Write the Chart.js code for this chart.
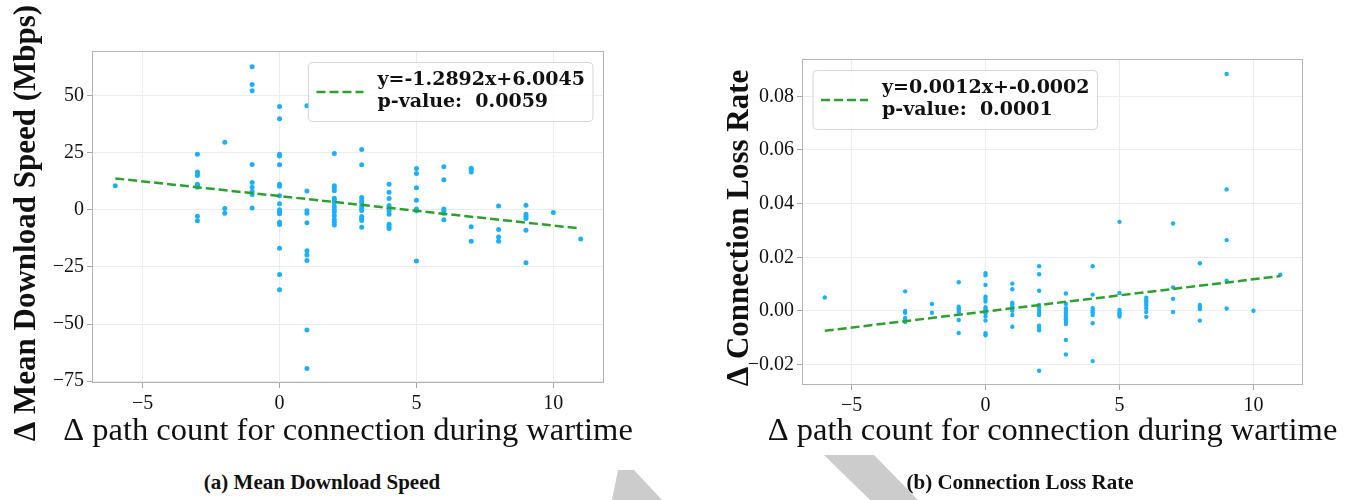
<!DOCTYPE html>
<html>
<head>
<meta charset="utf-8">
<script src="https://cdn.jsdelivr.net/npm/chart.js@4.4.1/dist/chart.umd.min.js"></script>
<style>
  html, body { margin: 0; padding: 0; background: #fff; }
  #wrap { position: relative; width: 1348px; height: 500px; overflow: hidden; }
  canvas { position: absolute; top: 0; }
  #cA { left: 0; }
  #cB { left: 674px; }
  .cap { position: absolute; top: 470px; font: bold 21px "Liberation Serif", serif; color: #111;
         transform: translateX(-50%); white-space: nowrap; z-index: 2; }
  .mark { position: absolute; left: 0; top: 0; width: 1348px; height: 500px; background: #cccccc; z-index: 1; }
</style>
</head>
<body>
<div id="wrap">
  <canvas id="cA" width="674" height="460"></canvas>
  <canvas id="cB" width="674" height="460"></canvas>
  <div class="mark" style="clip-path: polygon(618px 470px, 634px 470px, 662px 500px, 612px 500px);"></div>
  <div class="mark" style="clip-path: polygon(824px 455px, 874px 455px, 918px 500px, 870px 500px);"></div>
  <div class="cap" style="left: 322px;">(a) Mean Download Speed</div>
  <div class="cap" style="left: 1020px;">(b) Connection Loss Rate</div>
</div>
<script>
  // x values (delta path count) shared by both panels
  const xVals = [-6, -3, -2, -1, 0, 1, 2, 3, 4, 5, 6, 7, 8, 9, 10, 11];
  const xTicks = [-5, 0, 5, 10];

  // (a) delta mean download speed, one list per x value
  const speedVals = [
    [10.5],
    [24.3, 16.5, 15.9, 15.0, 11.2, 10.6, 9.9, -2.8, -4.8],
    [29.6, 0.6, -1.5],
    [62.6, 54.8, 52.1, 19.8, 12.0, 9.9, 8.0, 6.7, 0.8],
    [45.2, 39.9, 24.3, 23.6, 19.7, 11.2, 10.3, 6.1, 2.6, 0.0, -0.7, -1.7, -5.4, -6.4, -16.8, -28.3, -35.0],
    [45.5, 8.2, -0.4, -1.5, -5.7, -17.9, -19.8, -22.2, -52.6, -69.5],
    [24.6, 10.5, 9.5, 8.3, 5.1, 4.1, 3.2, 1.4, 0.0, -1.0, -2.6, -4.4, -5.4, -6.7],
    [26.4, 19.7, 5.4, 4.1, 3.1, 1.7, 0.7, -0.3, -2.9, -3.8, -4.7, -7.6],
    [11.2, 7.7, 4.9, 1.9, 0.5, -0.5, -1.9, -6.3, -7.3, -8.2],
    [18.1, 15.9, 9.6, 4.2, 0.4, -0.4, -22.4],
    [18.8, 13.1, 0.4, -0.4, -1.5, -4.4],
    [18.2, 17.5, 16.5, -7.4, -13.8],
    [1.7, -8.6, -11.9, -13.8],
    [2.0, -1.9, -2.9, -3.8, -8.9, -23.2],
    [-1.2],
    [-12.8]
  ];
  const speedTicks = [-75, -50, -25, 0, 25, 50];
  const speedFitX = [-6, 11];
  const speedFitY = [13.74, -8.18];
  const speedLegend = ['y=-1.2892x+6.0045', 'p-value:  0.0059'];

  // (b) delta connection loss rate
  const lossVals = [
    [0.0050],
    [0.0073, 0.0000, -0.0007, -0.0026, -0.0034, -0.0041],
    [0.0026, -0.0007],
    [0.0107, 0.0016, 0.0010, 0.0004, -0.0004, -0.0034, -0.0082],
    [0.0141, 0.0133, 0.0097, 0.0053, 0.0045, 0.0035, 0.0014, 0.0006, -0.0001, -0.0009, -0.0021, -0.0036, -0.0083, -0.0091],
    [0.0102, 0.0081, 0.0031, 0.0024, 0.0016, 0.0009, 0.0001, -0.0015, -0.0059],
    [0.0167, 0.0137, 0.0075, 0.0022, 0.0014, 0.0004, -0.0006, -0.0015, -0.0055, -0.0063, -0.0072, -0.0223],
    [0.0065, 0.0026, 0.0010, 0.0001, -0.0006, -0.0015, -0.0024, -0.0031, -0.0040, -0.0049, -0.0108, -0.0162],
    [0.0167, 0.0061, 0.0010, 0.0001, -0.0006, -0.0015, -0.0046, -0.0187],
    [0.0332, 0.0067, 0.0004, -0.0005, -0.0012, -0.0021],
    [0.0049, 0.0041, 0.0034, 0.0026, 0.0019, 0.0009, -0.0004, -0.0022],
    [0.0326, 0.0088, 0.0045, -0.0004],
    [0.0178, 0.0022, 0.0015, 0.0007, -0.0036],
    [0.0883, 0.0453, 0.0264, 0.0113, 0.0009],
    [0.0001],
    [0.0135]
  ];
  const lossTicks = [-0.02, 0, 0.02, 0.04, 0.06, 0.08];
  const lossFitX = [-6, 11];
  const lossFitY = [-0.0074, 0.0130];
  const lossLegend = ['y=0.0012x+-0.0002', 'p-value:  0.0001'];

  const blue = '#1cb0fc';
  const green = '#2ca02c';
  const serif = '"Liberation Serif", serif';
  const minus = (s) => String(s).replace('-', '\u2212');

  // box round the plot area (all four spines)
  const frame = {
    id: 'frame',
    beforeDatasetsDraw(chart) {
      const { ctx, chartArea: a } = chart;
      ctx.save();
      ctx.strokeStyle = '#b3b3b3';
      ctx.lineWidth = 1;
      ctx.strokeRect(Math.round(a.left) + 0.5, Math.round(a.top) + 0.5,
                     Math.round(a.width) - 1, Math.round(a.height) - 1);
      ctx.restore();
    }
  };

  // two-line legend for the fit line
  const fitLegend = {
    id: 'fitLegend',
    afterDatasetsDraw(chart, args, o) {
      const { ctx, chartArea: a } = chart;
      ctx.save();
      ctx.font = 'bold 19px "DejaVu Serif", serif';
      const tw = Math.max(...o.lines.map((t) => ctx.measureText(t).width));
      const w = 77 + tw, h = 59;
      const x = o.side === 'right' ? a.right - 11 - w : a.left + 11;
      const y = a.top + 11.5;
      ctx.beginPath();
      ctx.roundRect(x, y, w, h, 4);
      ctx.fillStyle = 'rgba(255,255,255,0.8)';
      ctx.fill();
      ctx.strokeStyle = 'rgba(204,204,204,0.8)';
      ctx.lineWidth = 1;
      ctx.stroke();
      ctx.beginPath();
      ctx.setLineDash([9, 4]);
      ctx.strokeStyle = green;
      ctx.lineWidth = 2.5;
      ctx.moveTo(x + 8, y + 29.5);
      ctx.lineTo(x + 55, y + 29.5);
      ctx.stroke();
      ctx.setLineDash([]);
      ctx.fillStyle = '#111';
      ctx.textBaseline = 'middle';
      ctx.fillText(o.lines[0], x + 69, y + 17.5);
      ctx.fillText(o.lines[1], x + 69, y + 39.5);
      ctx.restore();
    }
  };

  // axis titles drawn by hand so they are not squeezed to the axis length
  const axisTitles = {
    id: 'axisTitles',
    afterDraw(chart, args, o) {
      const { ctx, chartArea: a } = chart;
      ctx.save();
      ctx.fillStyle = '#111';
      ctx.textAlign = 'center';
      ctx.textBaseline = 'middle';
      ctx.font = '32.5px ' + serif;
      ctx.fillText(o.x, (a.left + a.right) / 2, o.xY);
      ctx.translate(o.yX, (a.top + a.bottom) / 2 + 6);
      ctx.rotate(-Math.PI / 2);
      ctx.font = 'bold 31px ' + serif;
      ctx.fillText(o.y, 0, 0);
      ctx.restore();
    }
  };

  function makeChart(el, cfg) {
    const pts = [];
    xVals.forEach((x, i) => cfg.vals[i].forEach((y) => pts.push({ x, y })));
    const fit = cfg.fitX.map((x, i) => ({ x, y: cfg.fitY[i] }));

    return new Chart(document.getElementById(el), {
      type: 'scatter',
      data: {
        datasets: [
          {
            type: 'line', data: fit, borderColor: green, borderWidth: 2.5,
            borderDash: [9, 4], pointRadius: 0, fill: false, order: 0
          },
          {
            data: pts, backgroundColor: blue, borderWidth: 0,
            pointRadius: cfg.r, pointHoverRadius: cfg.r, order: 1
          }
        ]
      },
      options: {
        responsive: false,
        animation: false,
        layout: { padding: cfg.pad },
        plugins: {
          legend: { display: false },
          tooltip: { enabled: false },
          fitLegend: { lines: cfg.legend, side: cfg.side },
          axisTitles: cfg.titles
        },
        scales: {
          x: {
            type: 'linear', min: -6.85, max: 11.85,
            afterBuildTicks: (s) => { s.ticks = xTicks.map((v) => ({ value: v })); },
            afterFit: (s) => { s.height = cfg.xH; },
            border: { display: false },
            grid: { color: '#ececec', tickColor: '#a6a6a6', tickLength: 5 },
            ticks: { font: { family: serif, size: 20 }, color: '#111', padding: 4, callback: (v) => minus(v) }
          },
          y: {
            type: 'linear', min: cfg.yMin, max: cfg.yMax,
            afterBuildTicks: (s) => { s.ticks = cfg.yTicks.map((v) => ({ value: v })); },
            afterFit: (s) => { s.width = cfg.yW; },
            border: { display: false },
            grid: { color: '#ececec', tickColor: '#a6a6a6', tickLength: 5 },
            ticks: { font: { family: serif, size: 20 }, color: '#111', padding: 3, callback: cfg.fmt }
          }
        }
      },
      plugins: [frame, fitLegend, axisTitles]
    });
  }

  makeChart('cA', {
    vals: speedVals, fitX: speedFitX, fitY: speedFitY, legend: speedLegend, side: 'right',
    yTicks: speedTicks, yMin: -75.8, yMax: 69.5, r: 2.5,
    pad: { left: 0, top: 51, right: 70, bottom: 0 }, yW: 92, xH: 77,
    fmt: (v) => minus(v),
    titles: { x: '\u0394 path count for connection during wartime', y: '\u0394 Mean Download Speed (Mbps)', xY: 431, yX: 27 }
  });

  makeChart('cB', {
    vals: lossVals, fitX: lossFitX, fitY: lossFitY, legend: lossLegend, side: 'left',
    yTicks: lossTicks, yMin: -0.0276, yMax: 0.0939, r: 2.2,
    pad: { left: 0, top: 59, right: 45, bottom: 0 }, yW: 128, xH: 75,
    fmt: (v) => minus(Number(v).toFixed(2)),
    titles: { x: '\u0394 path count for connection during wartime', y: '\u0394 Connection Loss Rate', xY: 431, yX: 66 }
  });
</script>
</body>
</html>
